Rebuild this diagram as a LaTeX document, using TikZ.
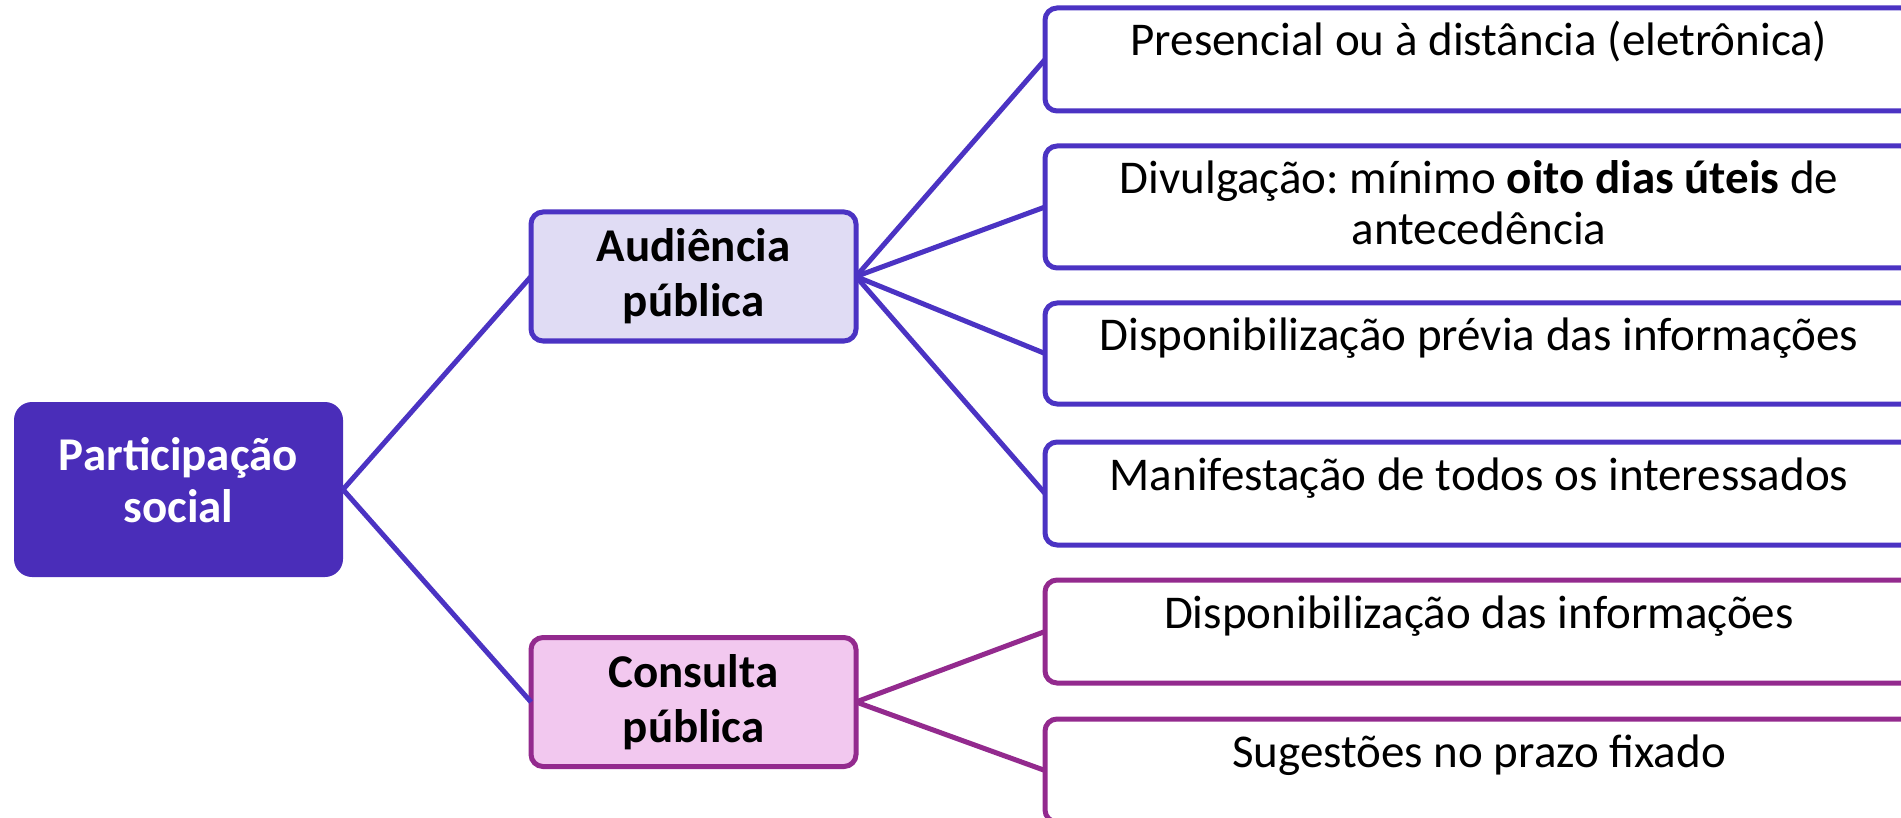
\documentclass[tikz,border=0pt]{standalone}
\usepackage{fontspec}
\setmainfont{Carlito}
\usepackage{tikz}
\definecolor{roxo}{RGB}{74,45,185}
\definecolor{azul}{RGB}{75,51,195}
\definecolor{lilas}{RGB}{224,220,244}
\definecolor{magenta}{RGB}{147,42,142}
\definecolor{rosa}{RGB}{242,200,239}
\frenchspacing

\begin{document}
\begin{tikzpicture}[x=1pt,y=-1pt,
    every node/.style={font=\fontsize{47}{51}\selectfont, outer sep=0pt},
    raiz/.style={fill=roxo, text=white, rounded corners=18pt, minimum width=329pt, minimum height=175pt, inner ysep=0pt, text height=120pt, text depth=55pt, align=center, font=\fontsize{47}{52}\selectfont\bfseries},
    ramo/.style={draw=#1, line width=5pt, rounded corners=12pt, minimum width=325pt, minimum height=129pt, align=center, font=\fontsize{47}{55}\selectfont\bfseries},
    folha/.style={draw=#1, line width=5pt, rounded corners=12pt, anchor=north west, minimum width=868pt, inner xsep=0pt, inner ysep=0pt, text height=48pt, text depth=55pt},
    liga/.style={draw=#1, line width=5pt}]

        \useasboundingbox (0,0) rectangle (1901,818);

        \node[raiz]                   (ps) at (178.5, 489.5)   {Participação\\social};
        \node[ramo=azul, fill=lilas]  (ap) at (693.5, 276.5)   {Audiência\\pública};
        \node[ramo=magenta, fill=rosa] (cp) at (693.5, 702)    {Consulta\\pública};

        \node[folha=azul]             (a1) at (1045, 8)        {Presencial ou à distância (eletrônica)};
        \node[folha=azul, align=center, text height=99pt, text depth=23pt]
                                      (a2) at (1045, 146)      {Divulgação: mínimo \textbf{oito dias úteis} de\\antecedência};
        \node[folha=azul, text depth=53pt] (a3) at (1045, 303) {Disponibilização prévia das informações};
        \node[folha=azul]             (a4) at (1045, 442)      {Manifestação de todos os interessados};
        \node[folha=magenta]          (c1) at (1045, 580)      {Disponibilização das informações};
        \node[folha=magenta]          (c2) at (1045, 719)      {Sugestões no prazo fixado};

        \draw (ps.east) edge[liga=azul] (ap.west);
        \draw (ps.east) edge[liga=azul] (cp.west);
        \draw (ap.east) edge[liga=azul] (a1.west);
        \draw (ap.east) edge[liga=azul] (a2.west);
        \draw (ap.east) edge[liga=azul] (a3.west);
        \draw (ap.east) edge[liga=azul] (a4.west);
        \draw (cp.east) edge[liga=magenta] (c1.west);
        \draw (cp.east) edge[liga=magenta] (c2.west);
      \end{tikzpicture}
\end{document}
